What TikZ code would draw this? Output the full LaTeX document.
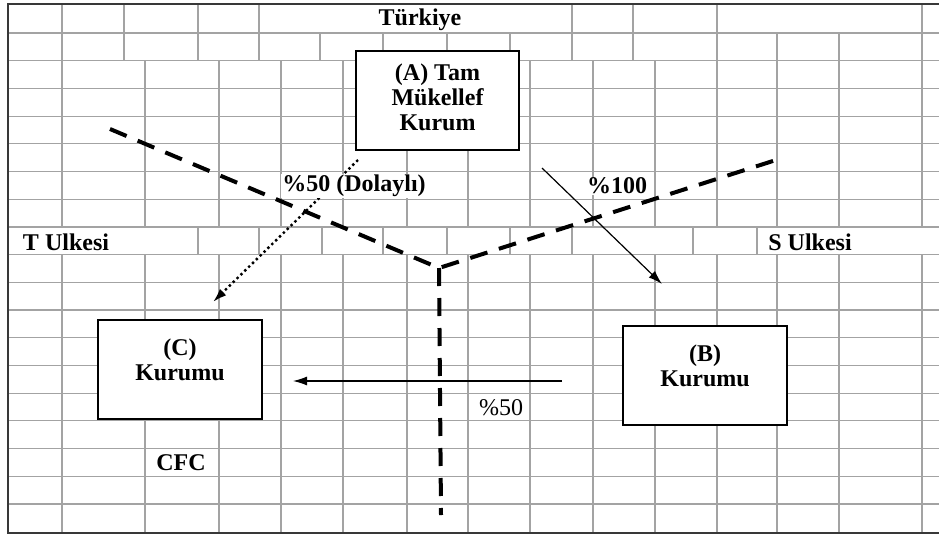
\documentclass[tikz,border=0pt]{standalone}
\usepackage{fontspec}
\setmainfont{Liberation Serif}
\usetikzlibrary{arrows.meta}
\begin{document}
\begin{tikzpicture}[x=1pt,y=-1pt,
        izgara/.style={draw=black!36, line width=1.2pt},
        kenar/.style={draw=black!78, line width=2pt},
        kutu/.style={draw, fill=white, line width=1.8pt},
        yazi/.style={font=\fontsize{24}{25}\selectfont\bfseries, align=center},
        etiket/.style={yazi, fill=white, inner sep=1pt},
        sinir/.style={line width=4pt, dash pattern=on 18pt off 12pt},
        ok/.style={-{Latex[length=14pt,width=9pt]}, line width=1.2pt}]
        \useasboundingbox (0,0) rectangle (939,538);
        % izgara
        \foreach \y in {0,...,17}
            \draw[izgara] (8,33+27.7*\y) -- (939,33+27.7*\y);
        \foreach \x in {62,124,198,259,572,633,717,922}
            \draw[izgara] (\x,4) -- (\x,61);
        \foreach \x in {320,383,447,510,777,839}
            \draw[izgara] (\x,33) -- (\x,61);
        \foreach \x in {62,145,219,281,343,407,468,530,593,655,717,777,839,922}
            \draw[izgara] (\x,61) -- (\x,228) (\x,255) -- (\x,533);
        \foreach \x in {198,259,322,383,447,510,572,693,757}
            \draw[izgara] (\x,228) -- (\x,255);
        \draw[kenar] (939,4) -- (8,4) -- (8,533) -- (939,533);
        % ulke sinirlari
        \coordinate (orta) at (439,268);
        \coordinate (sol) at (110,129);
        \coordinate (sag) at (776,160);
        \coordinate (alt) at (441,515);
        \draw[sinir] (sol) -- (orta) -- (sag);
        \draw[sinir] (orta) -- (alt);
        % kurumlar
        \node[kutu, minimum width=163, minimum height=99] (A) at (437.5,100.5) {};
        \node[yazi] (Ayazi) at ([yshift=3pt]A.center) {(A) Tam\\Mükellef\\Kurum};
        \node[kutu, minimum width=164, minimum height=99] (C) at (180,369.5) {};
        \node[yazi] (Cyazi) at ([yshift=10pt]C.center) {(C)\\Kurumu};
        \node[kutu, minimum width=164, minimum height=99] (B) at (705,375.5) {};
        \node[yazi] (Byazi) at ([yshift=10pt]B.center) {(B)\\Kurumu};
        % istirak oklari
        \coordinate (a1) at (358,160);
        \coordinate (c1) at (213,302);
        \coordinate (a2) at (542,168);
        \coordinate (b1) at (662,284);
        \coordinate (b2) at (562,381);
        \coordinate (c2) at (293,381);
        \draw[ok, line width=2.4pt, dash pattern=on 2.4pt off 3pt] (a1) -- (c1);
        \draw[ok] (a2) -- (b1);
        \draw[ok] (b2) -- (c2);
        % yazilar
        \node[yazi] (turkiye) at (420,20) {Türkiye};
        \node[yazi] (tulke) at (66,242) {T Ulkesi};
        \node[yazi] (sulke) at (810,242) {S Ulkesi};
        \node[etiket] (dolayli) at (354,186) {\%50 (Dolaylı)};
        \node[etiket] (yuz) at (617,186) {\%100};
        \node[etiket, font=\fontsize{24}{25}\selectfont] (elli) at (501,408) {\%50};
        \node[yazi] (cfc) at (181,463) {CFC};
    \end{tikzpicture}
\end{document}
